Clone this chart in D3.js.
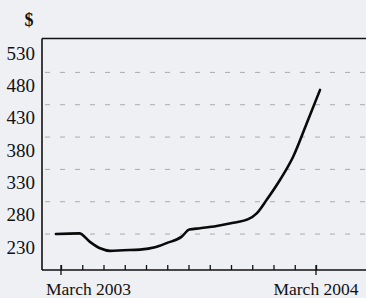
<!DOCTYPE html>
<html>
<head>
<meta charset="utf-8">
<script src="https://cdn.jsdelivr.net/npm/d3@7"></script>
<style>
  html, body { margin: 0; padding: 0; background: #eef0f4; }
  svg { display: block; }
  text { font-family: "Liberation Serif", "Times New Roman", serif; fill: #111; }
</style>
</head>
<body>
<svg id="chart" width="366" height="298"></svg>
<script>
// ---- data ----
// month index: 0 = March 2003, 12 = March 2004
const months = [-0.24, 0.86, 1.36, 1.84, 2.31, 2.93, 3.72, 4.42, 4.97, 5.68, 6.04, 6.54, 7.33, 8.11, 8.81, 9.21, 9.68, 10.31, 10.93, 11.56, 12.19];
const prices = [250, 251, 238, 228, 224, 225, 226, 229.5, 236, 246, 257, 259, 262.5, 267.5, 273, 282, 303, 334, 370, 421, 473];
const yTickValues = [230, 280, 330, 380, 430, 480, 530];
const gridValues = [250, 300, 350, 400, 450, 500];
const xTickValues = d3.range(0, 13);
const majorTicks = [0, 12];
const majorLabels = ["March 2003", "March 2004"];
const unitLabel = "$";

// ---- layout ----
const svg = d3.select("#chart");
const plotLeft = 42, plotRight = 366, plotTop = 38.5, plotBottom = 270;

const x = d3.scaleLinear().domain([0, 12]).range([61, 316]);
const y = d3.scaleLinear().domain([230, 530]).range([247, 53]);

// gridlines
svg.append("g").selectAll("line").data(gridValues).join("line")
  .attr("x1", plotLeft + 3).attr("x2", plotRight)
  .attr("y1", d => y(d)).attr("y2", d => y(d))
  .attr("stroke", "#a8abb2").attr("stroke-width", 1)
  .attr("stroke-dasharray", "5,10");

// frame: top line and left axis
svg.append("line").attr("x1", plotLeft).attr("x2", plotRight).attr("y1", plotTop).attr("y2", plotTop)
  .attr("stroke", "#111").attr("stroke-width", 1.6);
svg.append("line").attr("x1", plotLeft).attr("x2", plotLeft).attr("y1", plotTop).attr("y2", plotBottom)
  .attr("stroke", "#111").attr("stroke-width", 1.6);

// bottom axis (minor ticks pointing up)
const xAxis = d3.axisBottom(x).tickValues(xTickValues).tickSizeInner(-5).tickSizeOuter(0).tickFormat("");
const gx = svg.append("g").attr("transform", `translate(0,${plotBottom})`).call(xAxis);
gx.select(".domain").remove();
gx.selectAll(".tick line").attr("stroke", "#111").attr("stroke-width", 1.3);
svg.append("line").attr("x1", plotLeft).attr("x2", plotRight).attr("y1", plotBottom).attr("y2", plotBottom)
  .attr("stroke", "#111").attr("stroke-width", 1.6);

// major ticks crossing the axis
svg.append("g").selectAll("line").data(majorTicks).join("line")
  .attr("x1", d => x(d)).attr("x2", d => x(d))
  .attr("y1", plotBottom - 5).attr("y2", plotBottom + 5)
  .attr("stroke", "#111").attr("stroke-width", 1.3);

// x labels
svg.append("text").attr("x", x(majorTicks[0]) - 15).attr("y", 295)
  .attr("font-size", 17.5).attr("text-anchor", "start").text(majorLabels[0]);
svg.append("text").attr("x", x(majorTicks[1])).attr("y", 295)
  .attr("font-size", 17.5).attr("text-anchor", "middle").text(majorLabels[1]);

// y labels
const yAxis = d3.axisLeft(y).tickValues(yTickValues).tickSize(0).tickPadding(0);
const gy = svg.append("g").attr("transform", `translate(${35},0)`).call(yAxis);
gy.select(".domain").remove();
gy.selectAll(".tick text")
  .attr("font-family", "'Liberation Serif', 'Times New Roman', serif")
  .attr("font-size", 19).attr("fill", "#111");

// unit label
svg.append("text").attr("x", 29).attr("y", 26).attr("text-anchor", "middle")
  .attr("font-size", 18).attr("font-weight", "bold").text(unitLabel);

// price line
const pts = months.map((m, i) => [m, prices[i]]);
const line = d3.line().x(d => x(d[0])).y(d => y(d[1])).curve(d3.curveMonotoneX);
svg.append("path").datum(pts).attr("d", line)
  .attr("fill", "none").attr("stroke", "#0a0a0a").attr("stroke-width", 2.6)
  .attr("stroke-linejoin", "round").attr("stroke-linecap", "round");
</script>
</body>
</html>
